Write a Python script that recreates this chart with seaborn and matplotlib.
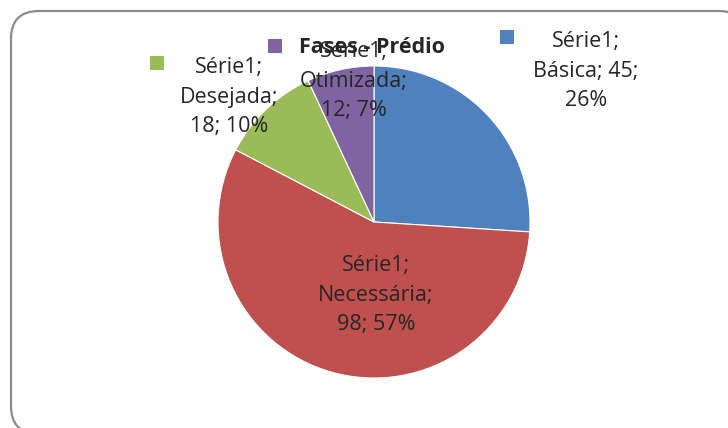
import matplotlib.pyplot as plt
import seaborn as sns
from matplotlib.patches import FancyBboxPatch

# dados
fases = ['Básica', 'Necessária', 'Desejada', 'Otimizada']
valores = [45, 98, 18, 12]
percentuais = ['26%', '57%', '10%', '7%']
serie = 'Série1'
cores = ['#4F81BD', '#C0504D', '#9BBB59', '#8064A2']
titulo = 'Fases - Prédio'

sns.set_theme(style='white')
plt.rcParams['font.family'] = ['Open Sans', 'DejaVu Sans']

W, H = 728, 428
fig = plt.figure(figsize=(W / 100, H / 100), dpi=100)
ax = fig.add_axes([0, 0, 1, 1])
ax.set_aspect('equal')

# moldura arredondada (cortada à direita e embaixo)
borda = FancyBboxPatch((11, H - 434), 736, 434 - 11,
                       boxstyle='round,pad=0,rounding_size=28',
                       fc='white', ec='#8c8c8c', lw=1.6, zorder=0)
ax.add_patch(borda)

cx, cy, r = 374, H - 222, 156
ax.pie(valores, colors=cores, startangle=90, counterclock=False,
       center=(cx, cy), radius=r, frame=True,
       wedgeprops=dict(linewidth=0.8, edgecolor='white'))
ax.set_xlim(0, W)
ax.set_ylim(0, H)
ax.axis('off')

# posições dos rótulos (pixels)
pos_rotulo = [(586, 71), (376, 295), (229, 97), (354, 81)]
pos_marca = [(507, 37), None, (157, 63), (275, 46)]

for i, f in enumerate(fases):
    if i == 0:
        txt = f'{serie};\n{f}; {valores[i]};\n{percentuais[i]}'
    else:
        txt = f'{serie};\n{f};\n{valores[i]}; {percentuais[i]}'
    x, y = pos_rotulo[i]
    ax.text(x, H - y, txt, ha='center', va='center', fontsize=15.5,
            color='#262626', linespacing=1.55, zorder=5)
    if pos_marca[i] is not None:
        mx, my = pos_marca[i]
        ax.scatter([mx], [H - my], marker='s', s=110, color=cores[i],
                   linewidths=0, zorder=5)

ax.text(372, H - 47, titulo, ha='center', va='center', fontsize=15.5,
        fontweight='bold', color='#262626', zorder=6)

fig.savefig('out.png', dpi=100)
